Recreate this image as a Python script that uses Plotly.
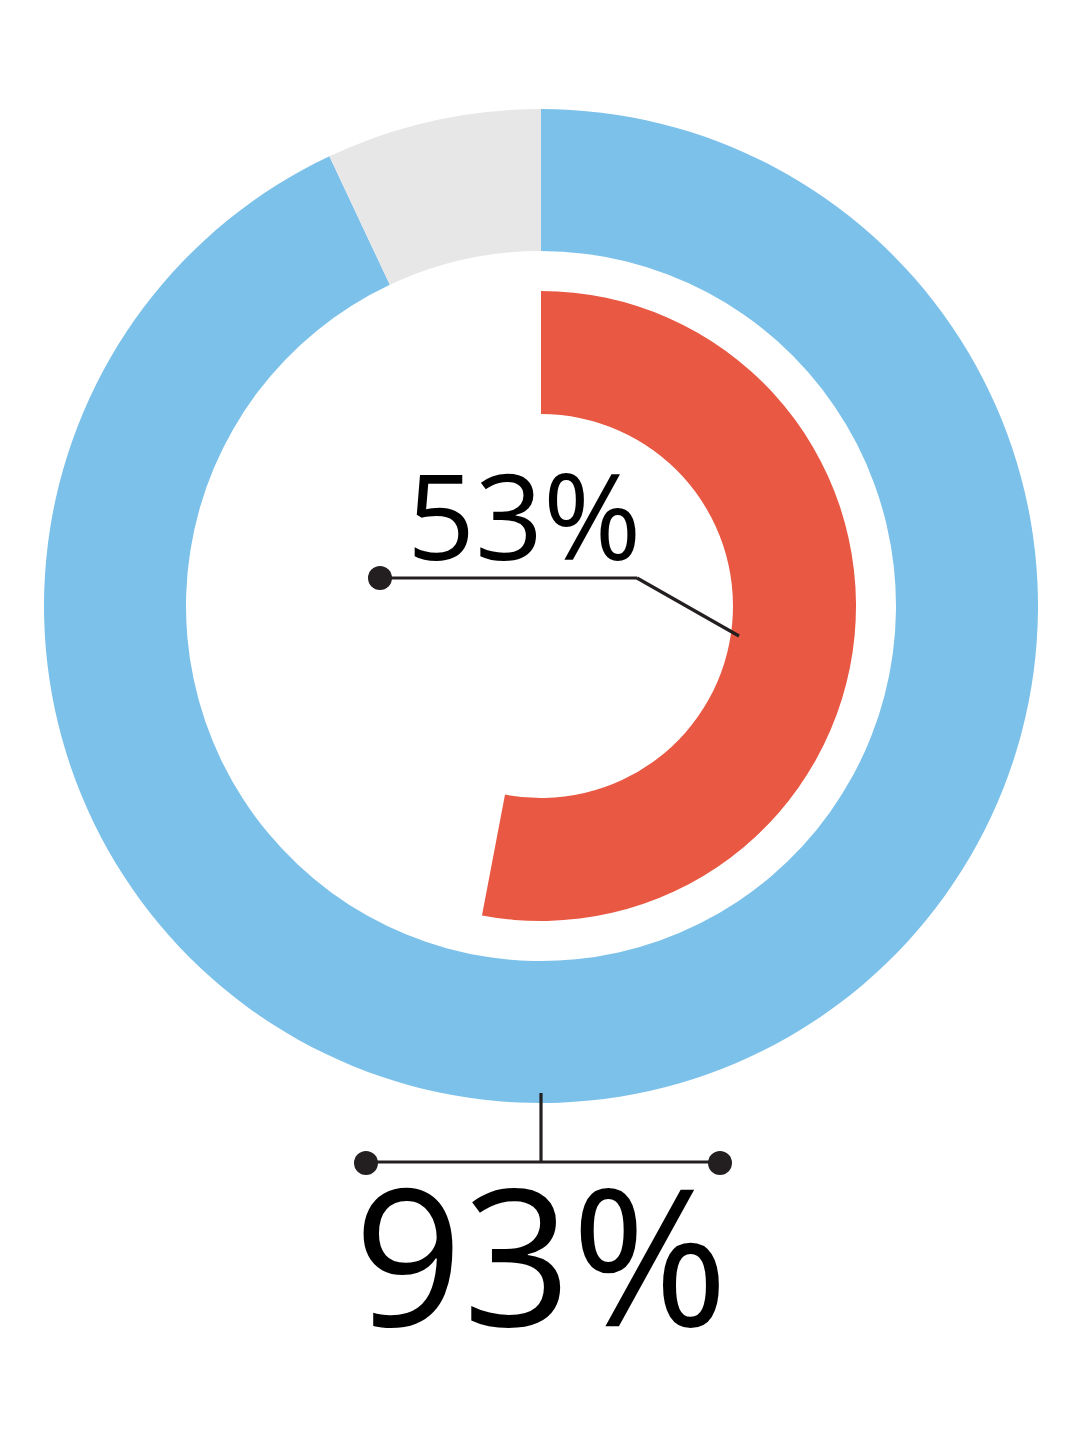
import plotly.graph_objects as go

W, H = 1080, 1434

outer_labels = ["Yes", "No"]
outer_values = [93, 7]
outer_colors = ["#7CC1EA", "#E8E7E8"]

inner_labels = ["Yes", "Rest"]
inner_values = [53, 47]
inner_colors = ["#E95842", "rgba(0,0,0,0)"]

outer_text = "93%"
inner_text = "53%"

# page offset (body margin of the html page)
OFF = 8

# layout geometry in pixels
CX, CY = 541, 606
R_OUT, R_OUT_HOLE = 497, 355
R_IN, R_IN_HOLE = 315, 192


def px(x):
    return (x - OFF) / W


def py(y):
    return 1 - (y - OFF) / H


def dom(r):
    return dict(x=[px(CX - r), px(CX + r)], y=[py(CY + r), py(CY - r)])


fig = go.Figure()
fig.add_trace(go.Pie(
    labels=outer_labels, values=outer_values, hole=R_OUT_HOLE / R_OUT,
    sort=False, direction="clockwise", rotation=0,
    marker=dict(colors=outer_colors, line=dict(width=0)),
    textinfo="none", hoverinfo="skip", domain=dom(R_OUT), showlegend=False,
))
fig.add_trace(go.Pie(
    labels=inner_labels, values=inner_values, hole=R_IN_HOLE / R_IN,
    sort=False, direction="clockwise", rotation=0,
    marker=dict(colors=inner_colors, line=dict(width=0)),
    textinfo="none", hoverinfo="skip", domain=dom(R_IN), showlegend=False,
))

LC = "#231F20"
shapes = []


def line(x0, y0, x1, y1):
    shapes.append(dict(type="line", xref="paper", yref="paper",
                       x0=px(x0), y0=py(y0), x1=px(x1), y1=py(y1),
                       line=dict(color=LC, width=3.2)))


def dot(x, y, r=12):
    shapes.append(dict(type="circle", xref="paper", yref="paper",
                       x0=px(x - r), y0=py(y + r), x1=px(x + r), y1=py(y - r),
                       fillcolor=LC, line=dict(width=0)))


# inner leader
line(380, 578, 637, 578)
line(637, 578, 739, 636)
dot(380, 578)
# outer leader
line(541, 1093, 541, 1162)
line(366, 1162, 720, 1162)
dot(366, 1163)
dot(720, 1163)

annotations = [
    dict(text=inner_text, x=px(524), y=py(514), xref="paper", yref="paper",
         xanchor="center", yanchor="middle", showarrow=False,
         font=dict(family="Open Sans", size=119, color="#000000")),
    dict(text=outer_text, x=px(541), y=py(1252), xref="paper", yref="paper",
         xanchor="center", yanchor="middle", showarrow=False,
         font=dict(family="Open Sans", size=190, color="#000000")),
]

fig.update_layout(
    width=W, height=H, margin=dict(l=0, r=0, t=0, b=0),
    paper_bgcolor="white", plot_bgcolor="white",
    shapes=shapes, annotations=annotations, showlegend=False,
)

fig.write_html("out.html")
